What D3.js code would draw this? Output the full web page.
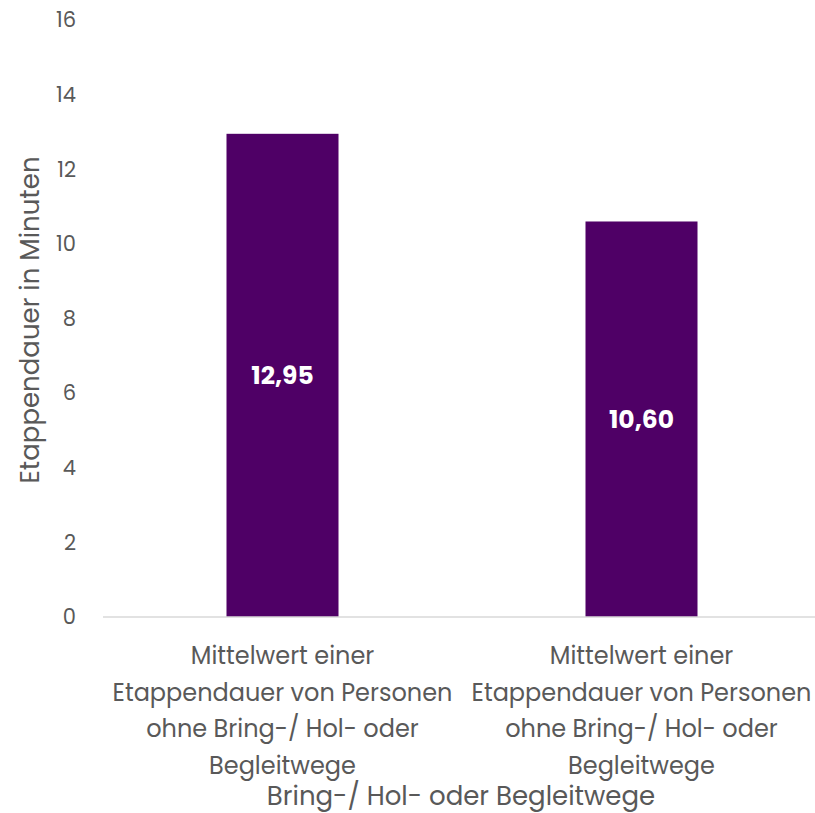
<!DOCTYPE html>
<html>
<head>
<meta charset="utf-8">
<script src="https://cdn.jsdelivr.net/npm/d3@7"></script>
<style>
  html, body { margin: 0; padding: 0; background: #fff; }
  svg text { font-family: "Poppins", "Open Sans", sans-serif; }
</style>
</head>
<body>
<svg id="chart" width="815" height="813"></svg>
<script>
// Mean stage duration (minutes) per group
const categories = [
  "Mittelwert einer Etappendauer von Personen ohne Bring-/ Hol- oder Begleitwege",
  "Mittelwert einer Etappendauer von Personen ohne Bring-/ Hol- oder Begleitwege "
];
const categoryLines = [
  ["Mittelwert einer", "Etappendauer von Personen", "ohne Bring-/ Hol- oder", "Begleitwege"],
  ["Mittelwert einer", "Etappendauer von Personen", "ohne Bring-/ Hol- oder", "Begleitwege"]
];
const values = [12.95, 10.60];
const valueLabels = ["12,95", "10,60"];
const yTicks = [0, 2, 4, 6, 8, 10, 12, 14, 16];
const yTitle = "Etappendauer in Minuten";
const xTitle = "Bring-/ Hol- oder Begleitwege";

const svg = d3.select("#chart");
const textColor = "#595959";
const barColor = "#4f0066";

const x = d3.scaleBand()
  .domain(categories)
  .range([103, 821])
  .paddingInner(0.688)
  .paddingOuter(0.344);

const y = d3.scaleLinear().domain([0, 16]).range([617, 20]);

// tick labels
svg.append("g").selectAll("text")
  .data(yTicks)
  .join("text")
  .attr("x", 76)
  .attr("y", d => y(d))
  .attr("dy", "0.35em")
  .attr("text-anchor", "end")
  .attr("fill", textColor)
  .attr("font-size", 21)
  .text(d => d);

// bars
svg.append("g").selectAll("rect")
  .data(values)
  .join("rect")
  .attr("x", (d, i) => x(categories[i]))
  .attr("y", d => y(d))
  .attr("width", x.bandwidth())
  .attr("height", d => y(0) - y(d))
  .attr("fill", barColor);

// baseline
svg.append("line")
  .attr("x1", 103).attr("x2", 815)
  .attr("y1", y(0)).attr("y2", y(0))
  .attr("stroke", "#d9d9d9")
  .attr("stroke-width", 1.5);

// value labels
svg.append("g").selectAll("text")
  .data(values)
  .join("text")
  .attr("x", (d, i) => x(categories[i]) + x.bandwidth() / 2)
  .attr("y", d => y(d / 2))
  .attr("dy", "0.35em")
  .attr("text-anchor", "middle")
  .attr("fill", "#fff")
  .attr("font-weight", "bold")
  .attr("font-size", 25)
  .text((d, i) => valueLabels[i]);

// category labels
categories.forEach((c, i) => {
  const t = svg.append("text")
    .attr("text-anchor", "middle")
    .attr("fill", textColor)
    .attr("font-size", 24);
  categoryLines[i].forEach((line, j) => {
    t.append("tspan")
      .attr("x", x(c) + x.bandwidth() / 2)
      .attr("y", 664 + j * 36.5)
      .text(line);
  });
});

// axis titles
svg.append("text")
  .attr("x", 461)
  .attr("y", 805)
  .attr("text-anchor", "middle")
  .attr("fill", textColor)
  .attr("font-size", 26)
  .text(xTitle);

svg.append("text")
  .attr("transform", "translate(39,320) rotate(-90)")
  .attr("text-anchor", "middle")
  .attr("fill", textColor)
  .attr("font-size", 26)
  .text(yTitle);
</script>
</body>
</html>
